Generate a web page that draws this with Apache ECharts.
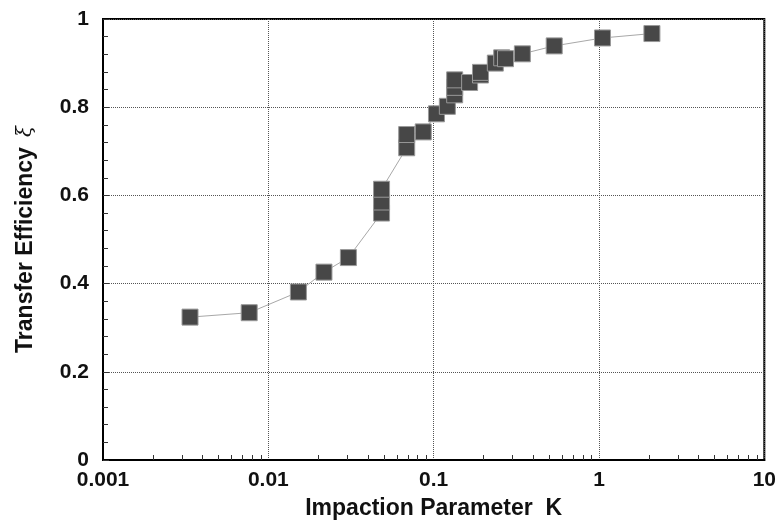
<!DOCTYPE html>
<html>
<head>
<meta charset="utf-8">
<script src="https://cdn.jsdelivr.net/npm/echarts@6/dist/echarts.min.js"></script>
<style>
    html, body {margin: 0; padding: 0; background: #fff;}
    #chart {width: 779px; height: 525px;}
</style>
</head>
<body>
<div id="chart"></div>
<script type="text/javascript">
    // impaction parameter K (log axis) and transfer efficiency
    let kValues = [0.00336, 0.00766, 0.0152, 0.0217, 0.0305,
        0.0484, 0.0484, 0.0484, 0.0687, 0.0687,
        0.0865, 0.104, 0.121, 0.134, 0.134, 0.134,
        0.165, 0.192, 0.192, 0.236, 0.258, 0.272,
        0.344, 0.536, 1.05, 2.09];
    let effValues = [0.324, 0.334, 0.381, 0.426, 0.459,
        0.560, 0.585, 0.614, 0.708, 0.738,
        0.744, 0.785, 0.802, 0.828, 0.845, 0.862,
        0.856, 0.873, 0.879, 0.900, 0.912, 0.910,
        0.921, 0.939, 0.957, 0.967];
    let decades = [0.001, 0.01, 0.1, 1, 10];
    let yTicks = [0, 0.2, 0.4, 0.6, 0.8, 1];

    // minor log ticks 2..9 in each decade
    let xMinorTicks = [];
    for (let i = 0; i < decades.length - 1; i++) {
        for (let m = 2; m <= 9; m++) {
            xMinorTicks.push(+(decades[i] * m).toPrecision(3));
        }
    }

    let points = kValues.map(function (k, i) {
        return [k, effValues[i]];
    });

    let labelFont = {
        fontFamily: 'Liberation Sans, Arial, sans-serif',
        fontWeight: 'bold',
        fontSize: 21,
        color: '#111'
    };

    let myChart = echarts.init(document.getElementById('chart'));
    let option = {
        backgroundColor: '#fff',
        animation: false,
        grid: {
            left: 103,
            right: 13,
            top: 19,
            bottom: 65,
            show: true,
            borderColor: '#000',
            borderWidth: 2,
            backgroundColor: 'transparent'
        },
        xAxis: [{
            type: 'log',
            logBase: 10,
            min: decades[0],
            max: decades[decades.length - 1],
            name: 'Impaction Parameter  K',
            nameLocation: 'middle',
            nameGap: 37,
            nameTextStyle: {
                fontFamily: 'Liberation Sans, Arial, sans-serif',
                fontWeight: 'bold',
                fontSize: 23,
                color: '#111'
            },
            axisLine: {lineStyle: {color: '#000', width: 2}},
            axisTick: {show: false},
            axisLabel: Object.assign({
                margin: 10,
                formatter: function (v) {
                    return String(v);
                }
            }, labelFont),
            splitLine: {
                show: true,
                lineStyle: {color: '#555', width: 1, type: 'dotted'}
            }
        }, {
            // minor ticks only
            type: 'log',
            logBase: 10,
            min: decades[0],
            max: decades[decades.length - 1],
            position: 'bottom',
            axisLine: {show: false},
            axisTick: {
                show: true,
                inside: true,
                length: 5,
                customValues: xMinorTicks,
                lineStyle: {color: '#333', width: 1}
            },
            axisLabel: {show: false},
            splitLine: {show: false}
        }],
        yAxis: {
            type: 'value',
            min: 0,
            max: 1,
            interval: 0.2,
            name: '{a|Transfer Efficiency}   {b|ξ}',
            nameLocation: 'middle',
            nameGap: 66,
            nameTextStyle: {
                rich: {
                    a: {
                        fontFamily: 'Liberation Sans, Arial, sans-serif',
                        fontWeight: 'bold',
                        fontSize: 23,
                        color: '#111'
                    },
                    b: {
                        fontFamily: 'DejaVu Serif, serif',
                        fontStyle: 'italic',
                        fontSize: 20,
                        color: '#111'
                    }
                }
            },
            axisLine: {show: true, lineStyle: {color: '#000', width: 2}},
            axisTick: {
                show: true,
                inside: true,
                length: 6,
                lineStyle: {color: '#333', width: 1}
            },
            minorTick: {
                show: true,
                splitNumber: 5,
                length: 5,
                lineStyle: {color: '#333', width: 1}
            },
            axisLabel: Object.assign({
                margin: 14,
                formatter: function (v) {
                    return yTicks.indexOf(+v.toFixed(1)) >= 0 ? String(+v.toFixed(1)) : '';
                }
            }, labelFont),
            splitLine: {
                show: true,
                lineStyle: {color: '#555', width: 1, type: 'dotted'}
            }
        },
        series: [{
            type: 'line',
            xAxisIndex: 0,
            data: points,
            symbol: 'rect',
            symbolSize: 16,
            itemStyle: {
                color: '#474747',
                borderColor: '#999',
                borderWidth: 1
            },
            lineStyle: {color: '#a8a8a8', width: 1},
            z: 3
        }]
    };
    myChart.setOption(option);
</script>
</body>
</html>
